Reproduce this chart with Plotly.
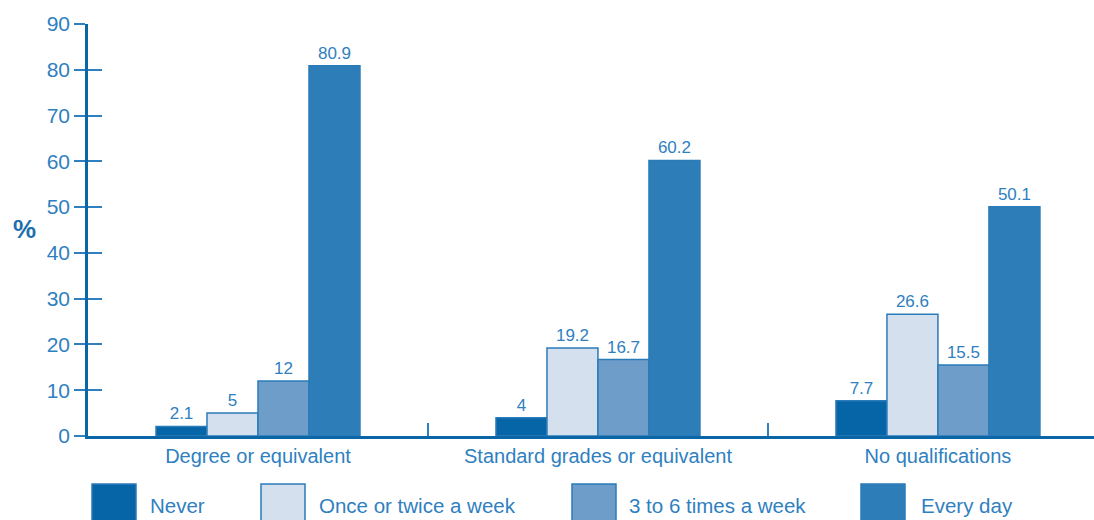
import plotly.graph_objects as go

categories = ["Degree or equivalent", "Standard grades or equivalent", "No qualifications"]
series_names = ["Never", "Once or twice a week", "3 to 6 times a week", "Every day"]
never = [2.1, 4, 7.7]
once_twice = [5, 19.2, 26.6]
three_to_six = [12, 16.7, 15.5]
every_day = [80.9, 60.2, 50.1]
y_ticks = [0, 10, 20, 30, 40, 50, 60, 70, 80, 90]

series_values = [never, once_twice, three_to_six, every_day]
colors = ["#0565a7", "#d5e0ee", "#6f9dca", "#2c7db8"]
edge = "#2b7bb9"
text_col = "#2f80bf"
axis_col = "#0b66a8"
FONT = "Liberation Sans"

xpos = list(range(len(categories)))

fig = go.Figure()
for name, vals, c in zip(series_names, series_values, colors):
    fig.add_trace(go.Bar(
        x=xpos, y=vals, name=name,
        marker=dict(color=c, line=dict(color=edge, width=1.5)),
        text=[f"{v:g}" for v in vals], textposition="outside",
        textfont=dict(family=FONT, size=17, color=text_col),
        cliponaxis=False, showlegend=False,
    ))

# invisible trace for overlay axes (double-sided ticks)
fig.add_trace(go.Scatter(x=[0], y=[0], xaxis="x2", yaxis="y2", mode="markers",
                         marker=dict(opacity=0), showlegend=False, hoverinfo="skip"))

fig.update_layout(
    width=1094, height=520,
    margin=dict(l=88, r=0, t=24, b=84),
    paper_bgcolor="white", plot_bgcolor="white",
    barmode="group", bargap=0.4, bargroupgap=0,
    font=dict(family=FONT, color=text_col),
    xaxis=dict(range=[-0.5, 2.459], tickvals=xpos, ticktext=categories,
               showgrid=False, zeroline=False, showline=True, linecolor=axis_col, linewidth=2.5,
               ticks="", tickfont=dict(size=20, color=text_col), fixedrange=True),
    yaxis=dict(range=[0, 90], tickvals=y_ticks, showgrid=False, zeroline=False,
               showline=True, linecolor=axis_col, linewidth=2.5,
               ticks="outside", ticklen=11, tickwidth=1.5, tickcolor=text_col,
               tickfont=dict(size=21, color=text_col)),
    xaxis2=dict(overlaying="x", anchor="y2", range=[-0.5, 2.459], tickvals=[0.5, 1.5],
                ticks="inside", ticklen=13, tickwidth=1.5, tickcolor=text_col,
                showticklabels=False, showgrid=False, zeroline=False, showline=False, side="bottom"),
    yaxis2=dict(overlaying="y", anchor="x2", range=[0, 90], tickvals=y_ticks,
                ticks="inside", ticklen=14, tickwidth=1.5, tickcolor=text_col,
                showticklabels=False, showgrid=False, zeroline=False, showline=False, side="left"),
)

fig.add_annotation(text="<b>%</b>", xref="paper", yref="paper", x=-0.077, y=0.503,
                   xanchor="left", yanchor="middle", showarrow=False,
                   font=dict(family=FONT, size=26, color="#1f6fae"))

# manual legend with large swatches
sw_x = [92, 261, 572, 861]
tx_x = [148, 317, 627, 919]
W = 1094 - 88
H = 520 - 24 - 84
for name, c, sx, tx in zip(series_names, colors, sw_x, tx_x):
    fig.add_shape(type="rect", xref="paper", yref="paper",
                  x0=(sx - 88) / W, x1=(sx + 44 - 88) / W,
                  y0=-(530 - 436) / H, y1=-(484 - 436) / H, fillcolor=c,
                  line=dict(color=edge, width=1.5), layer="above")
    fig.add_annotation(text=name, xref="paper", yref="paper", x=(tx - 88) / W,
                       y=-(505 - 436) / H, xanchor="left", yanchor="middle",
                       showarrow=False, font=dict(family=FONT, size=20.5, color=text_col))

fig.write_html("out.html", config={"displayModeBar": False},
               post_script="document.body.style.margin='0';document.body.style.overflow='hidden';")
